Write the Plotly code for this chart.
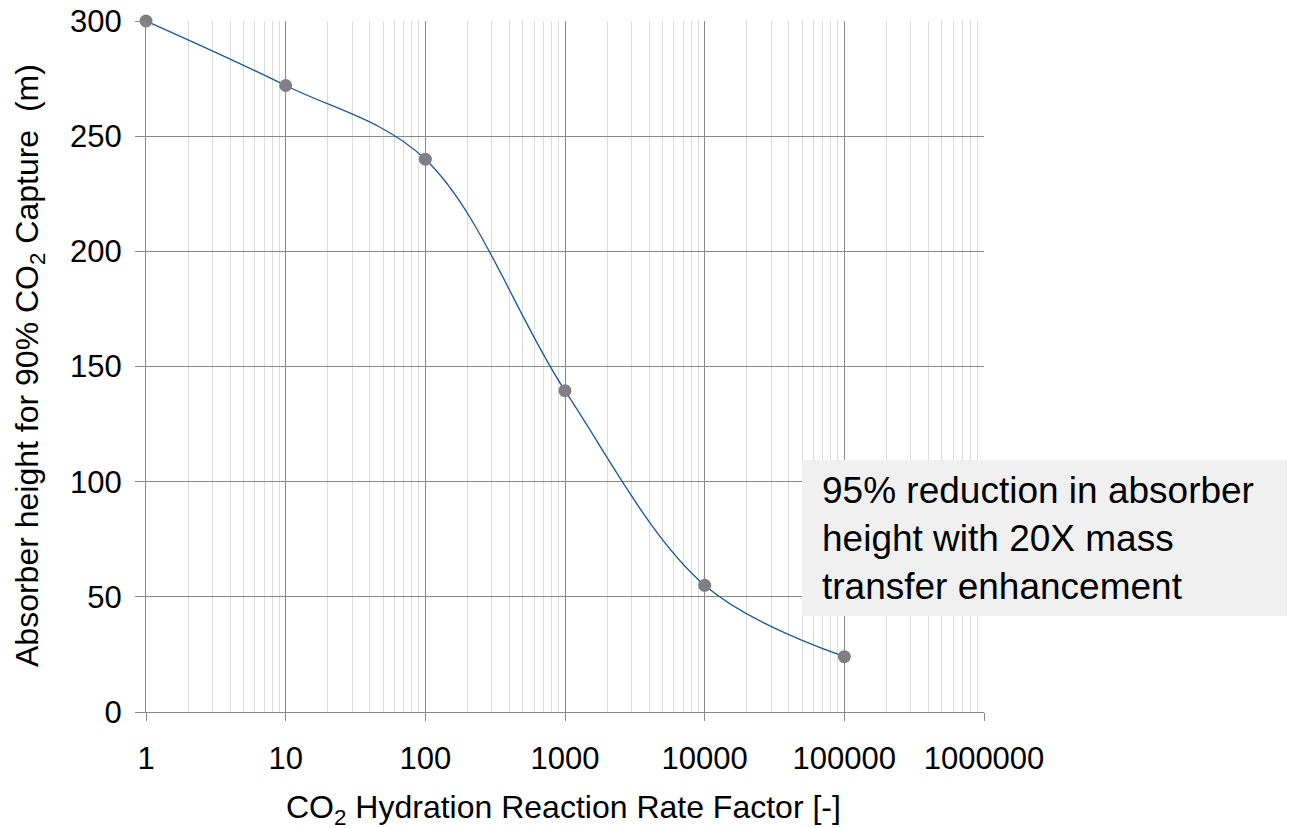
import plotly.graph_objects as go

rate_factor = [1, 10, 100, 1000, 10000, 100000]
absorber_height = [300, 272, 240, 139.5, 55, 24]
x_tick_vals = [1, 10, 100, 1000, 10000, 100000, 1000000]
x_tick_text = ["1", "10", "100", "1000", "10000", "100000", "1000000"]
y_tick_vals = [0, 50, 100, 150, 200, 250, 300]
x_title = "CO<sub>2</sub> Hydration Reaction Rate Factor [-]"
y_title = "Absorber height for 90% CO<sub>2</sub> Capture  (m)"
note_text = "95% reduction in absorber<br>height with 20X mass<br>transfer enhancement"

FONT = "Liberation Sans, Arial, sans-serif"
MAJOR = "#898989"
MINOR = "#dcdcdc"

# page is rendered with an 8px body offset; plot area in figure coordinates
OFF = 8
L, R, T, B = 146 - OFF, 984 - OFF, 21 - OFF, 712 - OFF
W, H = 1295, 828
PW, PH = R - L, B - T


def px(xp):
    return (xp - OFF - L) / PW


def py(yp):
    return (B - (yp - OFF)) / PH


fig = go.Figure()
fig.add_trace(go.Scatter(
    x=rate_factor, y=absorber_height, mode="lines+markers",
    line=dict(color="#1a5596", width=1.3, shape="spline", smoothing=1.0),
    marker=dict(color="#7f7f85", size=13),
    cliponaxis=False, showlegend=False,
))

fig.update_layout(
    width=W, height=H,
    margin=dict(l=L, r=W - R, t=T, b=H - B),
    paper_bgcolor="white", plot_bgcolor="white",
    font=dict(family=FONT, size=31, color="black"),
    xaxis=dict(
        type="log", range=[0, 6], automargin=False,
        tickvals=x_tick_vals, ticktext=x_tick_text, ticklabeloverflow="allow",
        showgrid=True, gridcolor=MAJOR, gridwidth=1.3,
        minor=dict(showgrid=True, gridcolor=MINOR, gridwidth=1, dtick="D1", ticks=""),
        ticks="outside", ticklen=8, tickcolor=MAJOR, tickwidth=1.3,
        showline=True, linecolor=MAJOR, linewidth=1.3, mirror=False,
        zeroline=False, ticklabelstandoff=11,
    ),
    yaxis=dict(
        range=[0, 300], tickvals=y_tick_vals, automargin=False,
        ticklabeloverflow="allow",
        showgrid=True, gridcolor=MAJOR, gridwidth=1.3,
        ticks="outside", ticklen=10, tickcolor=MAJOR, tickwidth=1.3,
        showline=True, linecolor=MAJOR, linewidth=1.3,
        zeroline=False, ticklabelstandoff=7,
    ),
)

fig.add_annotation(xref="paper", yref="paper", x=px(563), y=py(809),
                   xanchor="center", yanchor="middle", showarrow=False,
                   text=x_title, font=dict(family=FONT, size=32, color="black"))
fig.add_annotation(xref="paper", yref="paper", x=px(29), y=py(366),
                   xanchor="center", yanchor="middle", showarrow=False, textangle=-90,
                   text=y_title, font=dict(family=FONT, size=32, color="black"))

fig.add_shape(type="rect", xref="paper", yref="paper",
              x0=px(802), x1=px(1300),
              y0=py(616), y1=py(460),
              fillcolor="#f0f0f0", line=dict(width=0), layer="above")
fig.add_annotation(xref="paper", yref="paper",
                   x=px(820), y=py(538),
                   xanchor="left", yanchor="middle", align="left",
                   text=note_text, showarrow=False,
                   font=dict(family=FONT, size=37, color="black"))

fig.write_html("out.html")
